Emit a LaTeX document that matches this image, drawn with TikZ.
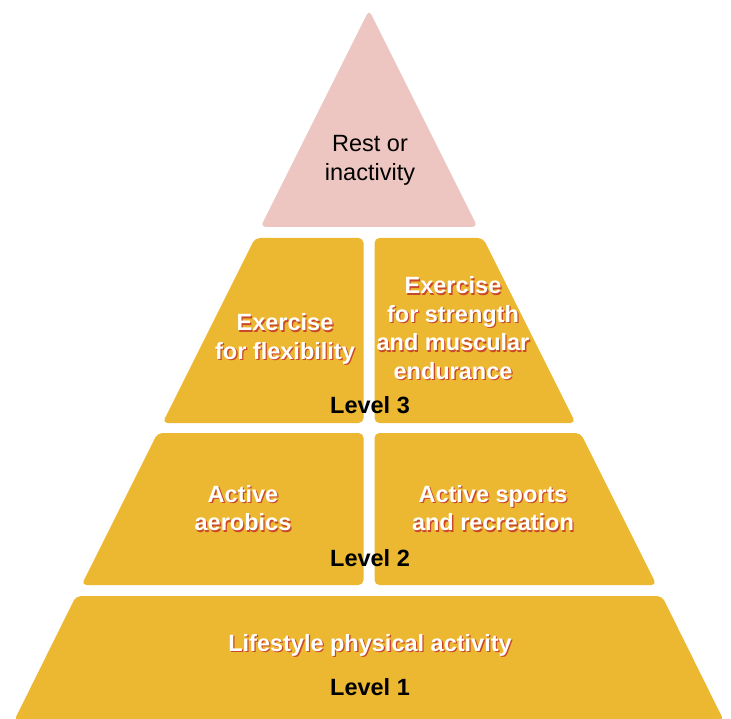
\documentclass[tikz,border=0pt]{standalone}
\usepackage{fontspec}
\setmainfont{Liberation Sans}
\usepackage{tikz}
\usetikzlibrary{positioning}
\definecolor{gold}{HTML}{ECB831}
\definecolor{rose}{HTML}{EDC6C1}
\definecolor{shade}{HTML}{C9472B}
\newcommand{\shlabel}[3]{\node[sh] (#1s) at (#2) {#3};\node[wt] (#1) at (#2) {#3};}

\begin{document}
\begin{tikzpicture}[x=1pt,y=-1pt,
blk/.style={fill=gold,rounded corners=5pt},
wt/.style={text=white,align=center,font=\fontsize{23.5}{28.5}\selectfont\bfseries},
sh/.style={wt,text=shade,xshift=1.3pt,yshift=-1.4pt},
lvl/.style={font=\fontsize{23.5}{28.5}\selectfont\bfseries},
rest/.style={align=center,font=\fontsize{23.5}{29}\selectfont}]
\useasboundingbox (0,0) rectangle (731,719);
% apex at (369,10), sides with slope 1/2
\fill[rose,rounded corners=5pt] (369,10) -- (477.5,227) -- (260.5,227) -- cycle;
\foreach \t/\b in {238/423,433/585}{
  \fill[blk] ({369-0.5*(\t-10)},\t) -- (363.5,\t) -- (363.5,\b) -- ({369-0.5*(\b-10)},\b) -- cycle;
  \fill[blk] (374.5,\t) -- ({369+0.5*(\t-10)},\t) -- ({369+0.5*(\b-10)},\b) -- (374.5,\b) -- cycle;}
\fill[blk] (76,596) -- (662,596) -- (724,721) -- (14,721) -- cycle;
\node[rest] (rest) at (370,160) {Rest or\\inactivity};
\shlabel{flex}{285,339}{Exercise\\for flexibility}
\shlabel{strength}{453,328}{Exercise\\for strength\\and muscular\\endurance}
\node[lvl] (l3) at (370,405) {Level 3};
\shlabel{aero}{243,508}{Active\\aerobics}
\shlabel{sport}{493,508}{Active sports\\and recreation}
\node[lvl] (l2) at (370,558) {Level 2};
\shlabel{life}{370,645}{Lifestyle physical activity}
\node[lvl] (l1) at (370,687) {Level 1};
\end{tikzpicture}
\end{document}
